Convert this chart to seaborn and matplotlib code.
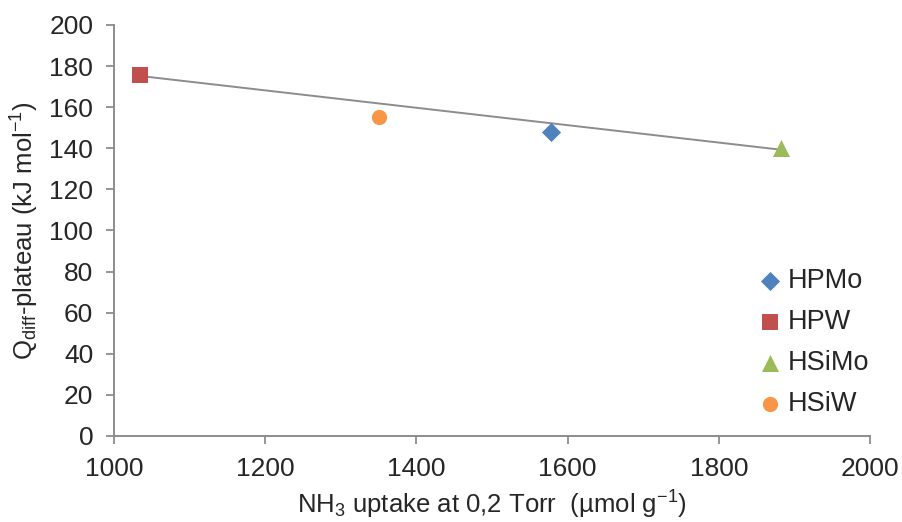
import pandas as pd
import matplotlib
matplotlib.use("Agg")
import matplotlib.pyplot as plt
import seaborn as sns

# values
samples = ["HPMo", "HPW", "HSiMo", "HSiW"]
nh3_uptake = [1578, 1034, 1882, 1350]
q_plateau = [148, 175.7, 140.3, 155.3]

# grey trend line, end points
trend_x = [1034, 1882]
trend_y = [175.2, 139.3]

x_ticks = [1000, 1200, 1400, 1600, 1800, 2000]
y_ticks = [0, 20, 40, 60, 80, 100, 120, 140, 160, 180, 200]

colors = {"HPMo": "#4F81BD", "HPW": "#C0504D", "HSiMo": "#9BBB59", "HSiW": "#F79646"}
markers = {"HPMo": "D", "HPW": "s", "HSiMo": "^", "HSiW": "o"}
sizes = {"HPMo": 95, "HPW": 135, "HSiMo": 150, "HSiW": 120}


def main():
    df = pd.DataFrame({"sample": samples, "uptake": nh3_uptake, "q": q_plateau})
    trend = pd.DataFrame({"uptake": trend_x, "q": trend_y})

    sns.set_theme(style="white")
    plt.rcParams["font.family"] = ["Liberation Sans", "DejaVu Sans"]
    plt.rcParams["mathtext.default"] = "regular"

    fig = plt.figure(figsize=(9.03, 5.22), dpi=100)
    ax = fig.add_axes([0.1262, 0.1648, 0.8372, 0.7874])

    sns.lineplot(data=trend, x="uptake", y="q", ax=ax, color="#8C8C8C",
                 linewidth=1.4, zorder=1)

    for name in samples:
        sub = df[df["sample"] == name]
        sns.scatterplot(data=sub, x="uptake", y="q", ax=ax, color=colors[name],
                        marker=markers[name], s=sizes[name], linewidth=0,
                        label=name, zorder=3)

    ax.set_xlim(1000, 2000)
    ax.set_ylim(0, 200)
    ax.set_xticks(x_ticks)
    ax.set_yticks(y_ticks)
    ax.tick_params(axis="both", labelsize=19, colors="#8C8C8C", labelcolor="#262626",
                   length=6, width=1.3, direction="out", left=True, bottom=True, pad=9)

    for side in ["top", "right"]:
        ax.spines[side].set_visible(False)
    for side in ["left", "bottom"]:
        ax.spines[side].set_color("#8C8C8C")
        ax.spines[side].set_linewidth(1.4)

    ax.set_xlabel("NH$_3$ uptake at 0,2 Torr  (\u00b5mol g$^{-1}$)", fontsize=18.5,
                  color="#262626", labelpad=6)
    ax.set_ylabel("Q$_{diff}$-plateau (kJ mol$^{-1}$)", fontsize=18.5,
                  color="#262626", labelpad=6)

    leg = ax.legend(loc="upper left", bbox_to_anchor=(0.846, 0.408), frameon=False,
                    fontsize=19.5, labelspacing=0.55, handletextpad=0.0,
                    handlelength=1.25, borderpad=0, borderaxespad=0)
    for t in leg.get_texts():
        t.set_color("#262626")

    plt.savefig("out.png", dpi=100)


if __name__ == "__main__":
    main()
